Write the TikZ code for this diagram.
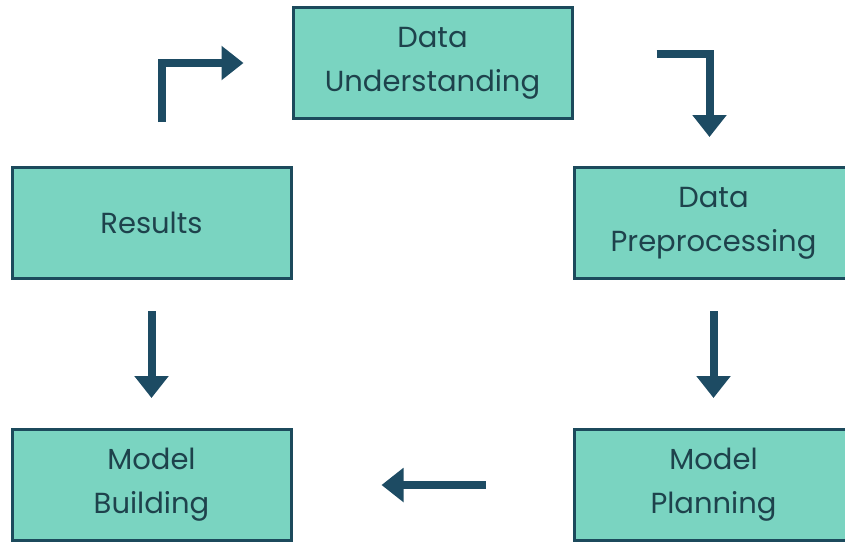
\documentclass[tikz,border=0pt]{standalone}
\usepackage{fontspec}
\setmainfont{Poppins}
\usetikzlibrary{arrows.meta}

\definecolor{boxfill}{RGB}{122,212,193}
\definecolor{boxline}{RGB}{28,74,92}
\definecolor{arrowcol}{RGB}{29,75,99}
\definecolor{textcol}{RGB}{30,66,76}

\tikzset{
    stage/.style={draw=boxline, line width=3pt, fill=boxfill, text=textcol,
        minimum width=279pt, minimum height=111pt, align=center,
        font=\fontsize{29}{44}\selectfont, inner sep=0pt},
    flow/.style={arrowcol, line width=8pt,
        -{Triangle[width=33pt, length=22pt]}}
}

\begin{document}
\begin{tikzpicture}[x=1pt, y=-1pt]
    \useasboundingbox (0, 0) rectangle (845, 542);
    \clip (0, 0) rectangle (845, 542);

    % Stages
    \node[stage] (du) at (432.5, 63) {Data\\Understanding};
    \node[stage] (res) at (151.5, 223) {Results};
    \node[stage] (dp) at (713.5, 223) {Data\\Preprocessing};
    \node[stage] (mb) at (151.5, 485) {Model\\Building};
    \node[stage] (mp) at (713.5, 485) {Model\\Planning};

    % Arrows
    \draw[flow, shorten <=44pt, shorten >=48pt] ([xshift=10pt]res.north) |- (du.west);
    \draw[flow, shorten <=83pt, shorten >=29pt, line join=miter] ([yshift=9pt]du.east) -| ([xshift=-4pt]dp.north);
    \draw[flow, shorten <=31pt, shorten >=30pt] (dp.south) -- (mp.north);
    \draw[flow, shorten <=87pt, shorten >=89pt] (mp.west) -- (mb.east);
    \draw[flow, shorten <=31pt, shorten >=30pt] (res.south) -- (mb.north);
\end{tikzpicture}
\end{document}
